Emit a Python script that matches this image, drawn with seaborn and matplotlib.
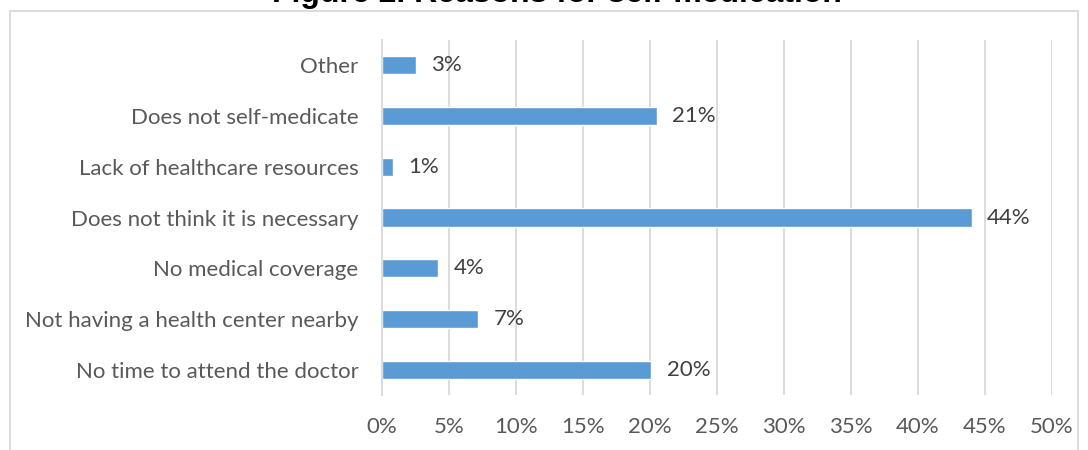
import matplotlib
matplotlib.use("Agg")
import matplotlib.pyplot as plt
import seaborn as sns
import pandas as pd
from matplotlib.patches import Rectangle
from matplotlib.ticker import PercentFormatter

categories = [
    "Other",
    "Does not self-medicate",
    "Lack of healthcare resources",
    "Does not think it is necessary",
    "No medical coverage",
    "Not having a health center nearby",
    "No time to attend the doctor",
]
values = [2.5, 20.5, 0.8, 44.0, 4.2, 7.2, 20.1]
labels = ["3%", "21%", "1%", "44%", "4%", "7%", "20%"]
xticks = [0, 5, 10, 15, 20, 25, 30, 35, 40, 45, 50]

df = pd.DataFrame({"reason": categories, "pct": values})

sns.set_theme(style="white")
plt.rcParams["font.family"] = ["Lato", "DejaVu Sans"]

fig = plt.figure(figsize=(10.88, 4.5), dpi=100)
ax = fig.add_axes([382 / 1088, 1 - 395 / 450, (1052 - 382) / 1088, (395 - 40) / 450])

sns.barplot(data=df, x="pct", y="reason", order=categories, color="#5b9bd5",
            saturation=1, width=0.36, ax=ax, orient="h")

ax.set_xlim(0, 50)
ax.set_xticks(xticks)
ax.xaxis.set_major_formatter(PercentFormatter(decimals=0))
ax.set_xlabel("")
ax.set_ylabel("")
ax.grid(axis="x", color="#d9d9d9", linewidth=1.3)
ax.set_axisbelow(True)
for s in ["top", "right", "bottom"]:
    ax.spines[s].set_visible(False)
ax.spines["left"].set_color("#d9d9d9")
ax.spines["left"].set_linewidth(1.3)
ax.tick_params(axis="both", length=0, labelsize=16, colors="#595959")
ax.tick_params(axis="y", pad=17)
ax.tick_params(axis="x", pad=16)

for patch, lab in zip(ax.patches, labels):
    w = patch.get_width()
    yc = patch.get_y() + patch.get_height() / 2
    ax.annotate(lab, (w, yc), xytext=(11, 0), textcoords="offset points",
                va="center", ha="left", fontsize=16, color="#404040")

fig.text(557 / 1088, 1 - 9 / 450, "Figure 2. Reasons for self-medication",
         ha="center", va="bottom", fontsize=23, fontweight="bold",
         family=["Liberation Sans", "DejaVu Sans"], color="black")

fig.patches.append(Rectangle((10 / 1088, -0.05), (1078 - 10) / 1088, 1.05 - 11 / 450,
                             transform=fig.transFigure, fill=False,
                             edgecolor="#d9d9d9", linewidth=1.3))

fig.savefig("out.png", dpi=100)
